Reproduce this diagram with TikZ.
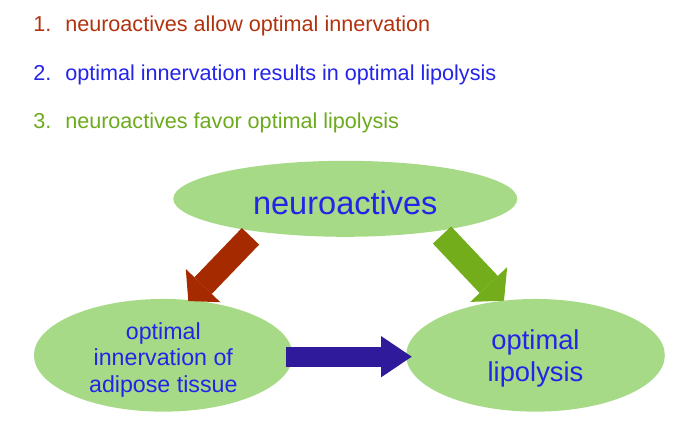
\documentclass[tikz,border=0pt]{standalone}
\usepackage{fontspec}
\setmainfont{Liberation Sans}
\usetikzlibrary{shapes.geometric,arrows.meta,calc}

\definecolor{listred}{RGB}{178,50,14}
\definecolor{listblue}{RGB}{36,36,232}
\definecolor{listgreen}{RGB}{108,170,30}
\definecolor{blobgreen}{RGB}{166,218,134}
\definecolor{arrowred}{RGB}{166,42,0}
\definecolor{arrowgreen}{RGB}{115,173,28}
\definecolor{arrowblue}{RGB}{46,26,154}

\begin{document}
\begin{tikzpicture}[x=0.75pt,y=-0.75pt,
every node/.style={inner sep=0pt},
itemtext/.style={anchor=base west,font=\fontsize{16.2}{19}\selectfont},
blob/.style={ellipse,fill=blobgreen,text=listblue,align=center},
fatarrow/.style={line width=#1}]

\useasboundingbox (0,0) rectangle (682,426);

\node[itemtext,text=listred]   (item1) at (33,31.5)  {\makebox[24pt][l]{1.}neuroactives allow optimal innervation};
\node[itemtext,text=listblue]  (item2) at (33,80.5)  {\makebox[24pt][l]{2.}optimal innervation results in optimal lipolysis};
\node[itemtext,text=listgreen] (item3) at (33,128.5) {\makebox[24pt][l]{3.}neuroactives favor optimal lipolysis};

% the struts push the text a little below the middle of each ellipse
\node[blob,minimum width=258pt,minimum height=57pt,font=\fontsize{24.4}{28}\selectfont] (neuro) at (345.3,198.8) {\rule{0pt}{23.5pt}neuroactives};
\node[blob,minimum width=194pt,minimum height=84.5pt,inner ysep=-2.5pt,font=\fontsize{17.4}{19.6}\selectfont] (innerv) at (163.3,355.3) {\rule{0pt}{19.5pt}optimal\\innervation of\\adipose tissue};
\node[blob,minimum width=194pt,minimum height=84.5pt,font=\fontsize{20.5}{23.6}\selectfont] (lipo) at (535.5,355.3) {\rule{0pt}{19.5pt}optimal\\lipolysis};

\draw[fatarrow=18pt,arrowred,-{Triangle[length=16pt 0,width=36pt 0,line width=0pt 0]}]
  ($(neuro)+(-94.8,37.5)$) -- ($(innerv)+(25,-54.3)$);
\draw[fatarrow=18.75pt,arrowgreen,-{Triangle[length=16.7pt 0,width=38pt 0,line width=0pt 0]}]
  ($(neuro)+(96.7,36.2)$) -- ($(lipo)+(-31.5,-54.6)$);
\draw[fatarrow=15pt,arrowblue,-{Triangle[length=23pt 0,width=31pt 0,line width=0pt 0]}]
  ($(innerv)+(122.7,1.4)$) -- ($(lipo)+(-123.8,1.4)$);
\end{tikzpicture}
\end{document}
